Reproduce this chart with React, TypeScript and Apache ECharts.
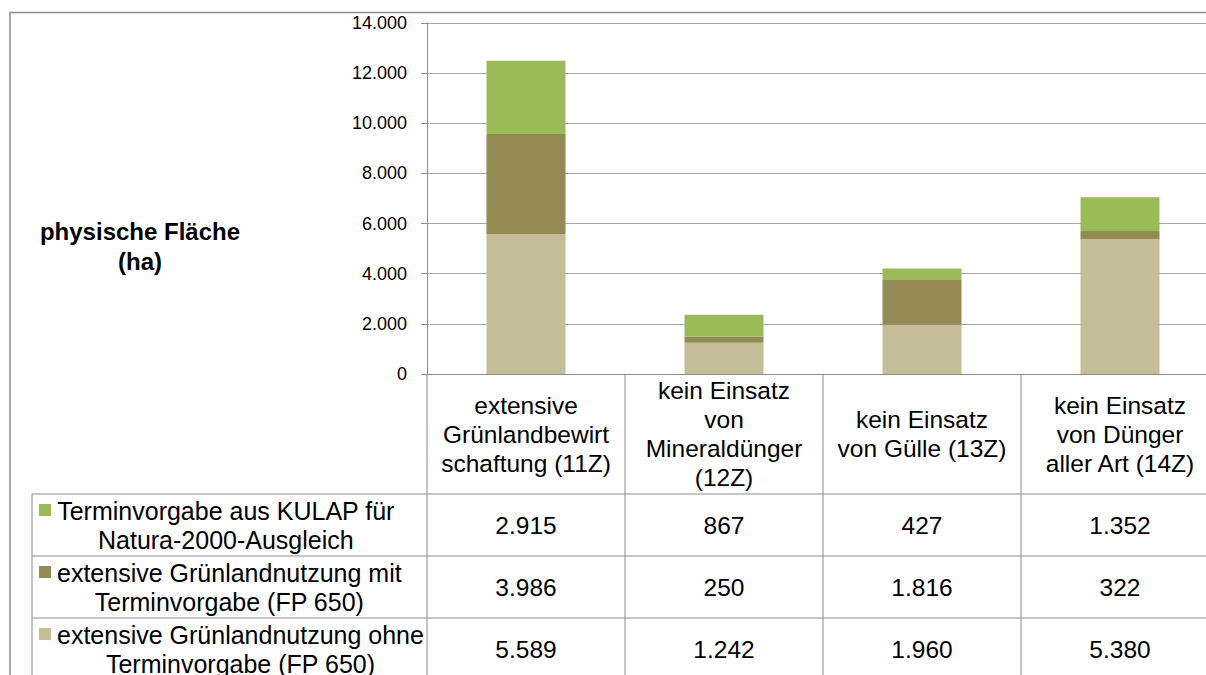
import React, { useEffect, useRef } from "react";
import * as echarts from "echarts";

const categories = [
  "extensive\nGrünlandbewirt\nschaftung (11Z)",
  "kein Einsatz\nvon\nMineraldünger\n(12Z)",
  "kein Einsatz\nvon Gülle (13Z)",
  "kein Einsatz\nvon Dünger\naller Art (14Z)",
];
const seriesLabels = [
  "Terminvorgabe aus KULAP für\nNatura-2000-Ausgleich",
  "extensive Grünlandnutzung mit\nTerminvorgabe (FP 650)",
  "extensive Grünlandnutzung ohne\nTerminvorgabe (FP 650)",
];
const kulap = [2915, 867, 427, 1352];
const mitTermin = [3986, 250, 1816, 322];
const ohneTermin = [5589, 1242, 1960, 5380];
const yMin = 0;
const yMax = 14000;
const yInterval = 2000;
const yTitle = "physische Fläche\n(ha)";

const colors = ["#9BBB59", "#948A54", "#C4BD97"];
const FONT = "'Liberation Sans', Arial, sans-serif";

const fmt = (v: number) => String(Math.round(v)).replace(/\B(?=(\d{3})+(?!\d))/g, ".");

export default function App() {
  const ref = useRef<HTMLDivElement>(null);
  useEffect(() => {
    document.body.style.margin = "0";
    const el = ref.current!;
    const chart = echarts.init(el, null, { renderer: "svg" });
    const gridLine = "#a6a6a6";
    const axisCol = "#8c8c8c";
    const rows = [kulap, mitTermin, ohneTermin];
    const option: any = {
      animation: false,
      grid: { left: 427, top: 23, width: 792, height: 351, outerBoundsMode: "none", containLabel: false },
      xAxis: {
        type: "category",
        data: categories,
        axisLine: { show: true, lineStyle: { color: axisCol, width: 1 } },
        axisTick: { show: false },
        axisLabel: { show: false },
        splitLine: { show: false },
      },
      yAxis: {
        type: "value",
        min: yMin,
        max: yMax,
        interval: yInterval,
        axisLine: { show: true, lineStyle: { color: axisCol, width: 1 } },
        axisTick: { show: true, length: 6, lineStyle: { color: axisCol } },
        axisLabel: {
          formatter: (v: number) => fmt(v),
          fontFamily: FONT,
          fontSize: 18,
          color: "#000",
          margin: 20,
        },
        splitLine: { show: true, lineStyle: { color: gridLine, width: 1 } },
      },
      series: [
        { name: seriesLabels[2], type: "bar", stack: "s", data: ohneTermin, barWidth: 79, itemStyle: { color: colors[2] } },
        { name: seriesLabels[1], type: "bar", stack: "s", data: mitTermin, barWidth: 79, itemStyle: { color: colors[1] } },
        { name: seriesLabels[0], type: "bar", stack: "s", data: kulap, barWidth: 79, itemStyle: { color: colors[0] } },
      ],
    };
    chart.setOption(option);

    const cx = categories.map((_, i) => chart.convertToPixel({ xAxisIndex: 0 }, i) as number);
    const band = cx.length > 1 ? cx[1] - cx[0] : 198;
    const y0 = chart.convertToPixel({ yAxisIndex: 0 }, 0) as number;
    const axisX = cx[0] - band / 2;
    const headerBottom = y0 + 120;
    const rowH = 62;
    const bottom = 680;

    const ctx = document.createElement("canvas").getContext("2d")!;
    ctx.font = `25px ${FONT}`;
    const measure = (s: string) => Math.max(...s.split("\n").map((l) => ctx.measureText(l).width));

    const g: any[] = [];
    // outer frame
    g.push({ type: "rect", shape: { x: 10, y: 12.5, width: 1230, height: 700 }, style: { fill: "none", stroke: axisCol, lineWidth: 1.5 }, silent: true });
    // title
    g.push({
      type: "text",
      x: 140,
      y: 246,
      style: { text: yTitle, fontFamily: FONT, fontSize: 24, fontWeight: "bold", fill: "#000", align: "center", verticalAlign: "middle", lineHeight: 30 },
    });
    // y axis continuation through table
    g.push({ type: "line", shape: { x1: axisX, y1: y0, x2: axisX, y2: bottom }, style: { stroke: axisCol, lineWidth: 1 } });
    // column separators
    for (let i = 0; i < cx.length; i++) {
      const x = cx[i] + band / 2;
      g.push({ type: "line", shape: { x1: x, y1: y0, x2: x, y2: bottom }, style: { stroke: axisCol, lineWidth: 1 } });
    }
    // horizontal lines
    for (let r = 0; r < 3; r++) {
      const y = headerBottom + r * rowH;
      g.push({ type: "line", shape: { x1: 32, y1: y, x2: 1240, y2: y }, style: { stroke: axisCol, lineWidth: 1 } });
    }
    // left border of table
    g.push({ type: "line", shape: { x1: 32, y1: headerBottom, x2: 32, y2: bottom }, style: { stroke: axisCol, lineWidth: 1 } });
    // header
    categories.forEach((c, i) => {
      g.push({
        type: "text",
        x: cx[i],
        y: (y0 + headerBottom) / 2,
        style: { text: c, fontFamily: FONT, fontSize: 24.5, fill: "#000", align: "center", verticalAlign: "middle", lineHeight: 29 },
      });
    });
    // rows
    rows.forEach((vals, r) => {
      const top = headerBottom + r * rowH;
      const mid = top + rowH / 2;
      const w = measure(seriesLabels[r]);
      g.push({ type: "rect", shape: { x: 39, y: mid - 15 - 6, width: 12, height: 12 }, style: { fill: colors[r] } });
      g.push({
        type: "text",
        x: 57 + w / 2,
        y: mid,
        style: { text: seriesLabels[r], fontFamily: FONT, fontSize: 25, fill: "#000", align: "center", verticalAlign: "middle", lineHeight: 29 },
      });
      vals.forEach((v, i) => {
        g.push({
          type: "text",
          x: cx[i],
          y: mid,
          style: { text: fmt(v), fontFamily: FONT, fontSize: 24.5, fill: "#000", align: "center", verticalAlign: "middle" },
        });
      });
    });
    chart.setOption({ graphic: { elements: g } });
    return () => chart.dispose();
  }, []);
  return <div ref={ref} style={{ width: 1206, height: 675 }} />;
}
